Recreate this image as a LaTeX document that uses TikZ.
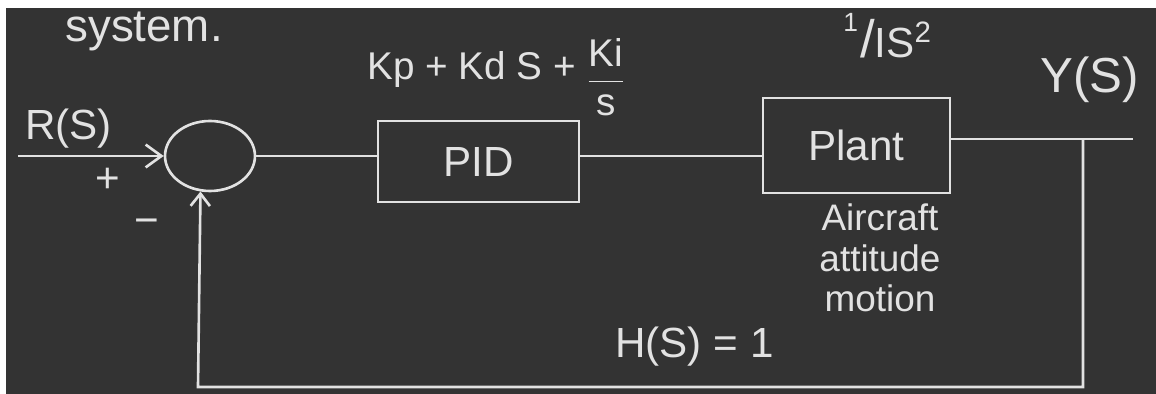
\documentclass[tikz,border=0pt]{standalone}
\usepackage{fontspec}
\usepackage{amsmath}
\setmainfont{Liberation Sans}
\usetikzlibrary{shapes.geometric,arrows.meta}
\definecolor{board}{RGB}{51,51,51}
\definecolor{chalk}{RGB}{226,226,226}
\begin{document}
\begin{tikzpicture}[x=0.02cm,y=-0.02cm,
  wire/.style={draw=chalk,line width=1.5pt},
  blk/.style={draw=chalk,line width=1.5pt,rectangle,inner sep=0pt,text=chalk,
              font=\fontsize{24}{26}\selectfont},
  hand/.style={text=chalk,inner sep=0pt,font=\fontsize{24}{26}\selectfont},
  barb/.style={-{Straight Barb[length=9pt,width=13pt]}},
  smallbarb/.style={-{Straight Barb[length=7pt,width=11pt]}}
]
% board
\fill[white] (0,0) rectangle (1156,394);
\fill[board] (6,8) rectangle (1156,394);
\useasboundingbox (0,0) rectangle (1156,394);

% blocks
\node[ellipse,draw=chalk,line width=1.5pt,minimum width=1.8cm,minimum height=1.4cm,inner sep=0pt]
  (sum) at (210,156) {};
\node[blk,minimum width=4.02cm,minimum height=1.62cm] (pid) at (478.5,161.5) {PID};
\node[blk,minimum width=3.74cm,minimum height=1.9cm] (plant) at (856.5,145.5) {Plant};

% signal points
\coordinate (in) at (18,156);
\coordinate (branch) at (1083,139);
\coordinate (yend) at (1133,139);
\coordinate (fbc) at (198,387);

% forward path
\draw[wire,barb] (in) -- (in -| sum.west);
\draw[wire] (sum.east) -- (sum.east -| pid.west);
\draw[wire] (pid.east |- sum.east) -- (sum.east -| plant.west);
\draw[wire] (plant.east |- branch) -- (yend);

% feedback path
\draw[wire,smallbarb] (branch) |- (fbc) -- (sum.255);

% labels
\node[hand,anchor=base west,font=\fontsize{26}{28}\selectfont] (title) at (65,42) {system.};
\node[hand,anchor=base west] (rlab) at (25,140) {R(S)};
\node[hand] (plus) at (108,180) {+};
\node[hand] (minus) at (147,227) {−};
\node[hand,anchor=base west,font=\fontsize{22}{24}\selectfont] (gain) at (367,80)
  {Kp + Kd S + \raisebox{-0.28em}{$\dfrac{\text{Ki}}{\text{s}}$}};
\node[hand,anchor=base west] (pgain) at (843,58)
  {\raisebox{0.62em}{\fontsize{15}{15}\selectfont 1}\kern0.05em{\fontsize{30}{30}\selectfont /}IS\textsuperscript{2}};
\node[hand,anchor=base west,font=\fontsize{28}{30}\selectfont] (ylab) at (1040,93) {Y(S)};
\node[hand,align=center,font=\fontsize{21}{23}\selectfont] (desc) at (880,258)
  {Aircraft\\attitude\\motion};
\node[hand,anchor=base west] (hlab) at (615,358) {H(S) = 1};
\end{tikzpicture}
\end{document}
